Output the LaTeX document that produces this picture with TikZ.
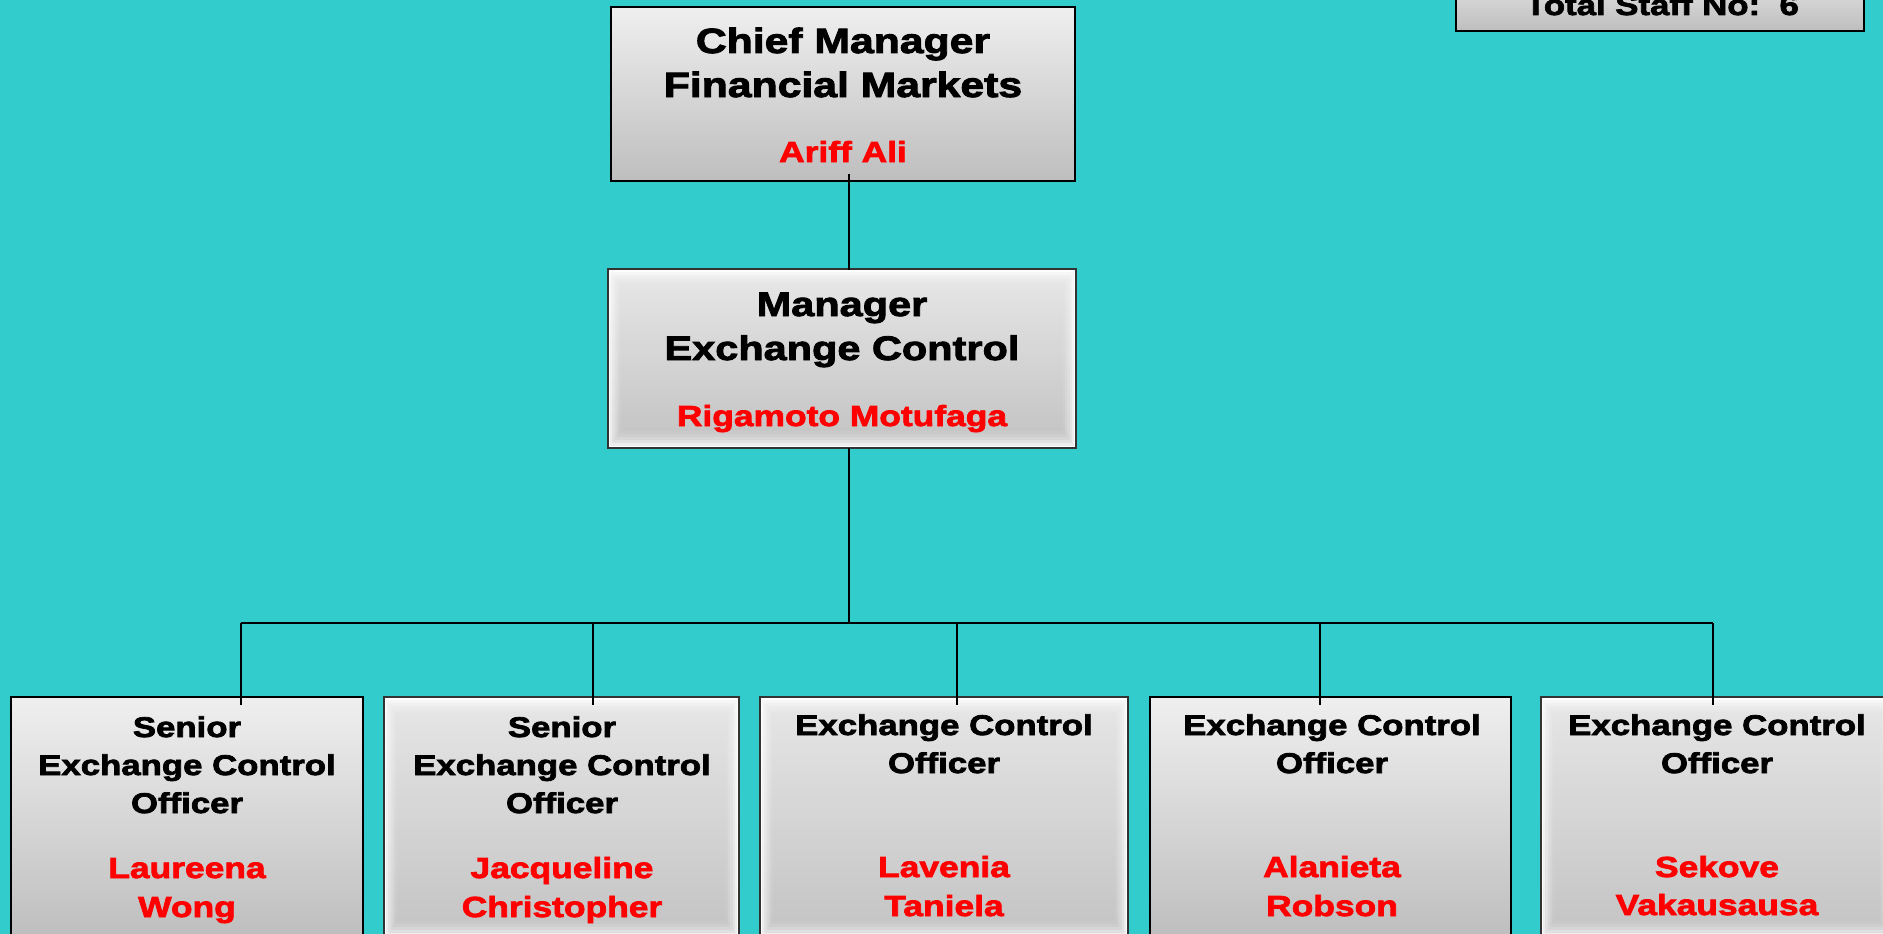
\documentclass[tikz,border=0pt]{standalone}
\usepackage{fontspec}
\newfontfamily\bk[FakeStretch=1.22,FakeBold=2.6]{Liberation Sans}
\definecolor{bg}{RGB}{51,204,204}
\definecolor{gtop}{RGB}{239,239,239}
\definecolor{gbot}{RGB}{190,190,190}
\definecolor{itop}{RGB}{228,228,228}
\definecolor{ibot}{RGB}{196,196,196}
\definecolor{nm}{RGB}{255,0,0}
\begin{document}
\begin{tikzpicture}[x=1pt,y=-1pt,
  plainbox/.style={draw=black,line width=2pt,top color=gtop,bottom color=gbot,inner sep=0pt},
  bevelbox/.style={draw=black!80,line width=1.8pt,inner sep=0pt,
    top color=white,middle color=black!8,bottom color=white,
    path picture={\foreach \k/\op in {3/0.3,6/0.3,9/0.35,12/0.4,15/0.5,18/0.6}{
      \shade[top color=itop,bottom color=ibot,opacity=\op]
      ([shift={({0.75*\k pt},{\k pt})}]path picture bounding box.south west) rectangle
      ([shift={({-0.75*\k pt},{-\k pt})}]path picture bounding box.north east);}}},
  ttop/.style={anchor=base,inner sep=0pt,font=\bk\bfseries\fontsize{35}{36}\selectfont},
  tmgr/.style={anchor=base,inner sep=0pt,font=\bk\bfseries\fontsize{34}{36}\selectfont},
  tsub/.style={anchor=base,inner sep=0pt,font=\bk\bfseries\fontsize{28.5}{30}\selectfont},
  tname/.style={anchor=base,inner sep=0pt,text=nm,font=\bk\bfseries\fontsize{29}{30}\selectfont},
  conn/.style={draw=black,line width=2.2pt}]
\useasboundingbox (0,0) rectangle (1883,934);
\clip (0,0) rectangle (1883,934);
\fill[bg] (0,0) rectangle (1883,934);

% boxes
\node[plainbox,minimum width=464pt,minimum height=174pt] (top) at (843,94) {};
\node[bevelbox,minimum width=468pt,minimum height=179pt] (mgr) at (842,358.5) {};
\node[plainbox,minimum width=408pt,minimum height=71pt] (staff) at (1660,-4.5) {};
\node[plainbox,minimum width=352pt,minimum height=241pt] (b1) at (187,817.5) {};
\node[bevelbox,minimum width=355pt,minimum height=241pt] (b2) at (561.5,817.5) {};
\node[bevelbox,minimum width=368pt,minimum height=241pt] (b3) at (944,817.5) {};
\node[plainbox,minimum width=361pt,minimum height=241pt] (b4) at (1330.5,817.5) {};
\node[bevelbox,minimum width=352pt,minimum height=241pt] (b5) at (1717,817.5) {};

% texts
\node[tsub] (staffT) at (1662,15) {Total Staff No:\ \ 6};
\node[ttop] (topA) at (843,53) {Chief Manager};
\node[ttop] (topB) at (843,97) {Financial Markets};
\node[tname] (topN) at (843,162) {Ariff Ali};
\node[tmgr] (mgrA) at (842,316) {Manager};
\node[tmgr] (mgrB) at (842,360) {Exchange Control};
\node[tname] (mgrN) at (842,426) {Rigamoto Motufaga};

\node[tsub] (b1A) at (187,737) {Senior};
\node[tsub] (b1B) at (187,775) {Exchange Control};
\node[tsub] (b1C) at (187,813) {Officer};
\node[tname] (b1N) at (187,878) {Laureena};
\node[tname] (b1M) at (187,917) {Wong};

\node[tsub] (b2A) at (562,737) {Senior};
\node[tsub] (b2B) at (562,775) {Exchange Control};
\node[tsub] (b2C) at (562,813) {Officer};
\node[tname] (b2N) at (562,878) {Jacqueline};
\node[tname] (b2M) at (562,917) {Christopher};

\node[tsub] (b3B) at (944,735) {Exchange Control};
\node[tsub] (b3C) at (944,773) {Officer};
\node[tname] (b3N) at (944,877) {Lavenia};
\node[tname] (b3M) at (944,916) {Taniela};

\node[tsub] (b4B) at (1332,735) {Exchange Control};
\node[tsub] (b4C) at (1332,773) {Officer};
\node[tname] (b4N) at (1332,877) {Alanieta};
\node[tname] (b4M) at (1332,916) {Robson};

\node[tsub] (b5B) at (1717,735) {Exchange Control};
\node[tsub] (b5C) at (1717,773) {Officer};
\node[tname] (b5N) at (1717,877) {Sekove};
\node[tname] (b5M) at (1717,915) {Vakausausa};

% connectors
\coordinate (topOut) at (849,174);
\coordinate (mgrIn) at (849,270);
\coordinate (mgrOut) at (849,448);
\coordinate (hub) at (849,623);
\coordinate (d1) at (241,623);
\coordinate (d2) at (593,623);
\coordinate (d3) at (957,623);
\coordinate (d4) at (1320,623);
\coordinate (d5) at (1713,623);
\coordinate (e1) at (241,705);
\coordinate (e2) at (593,705);
\coordinate (e3) at (957,705);
\coordinate (e4) at (1320,705);
\coordinate (e5) at (1713,705);
\draw[conn] (topOut) -- (mgrIn);
\draw[conn] (mgrOut) -- (hub);
\draw[conn] (d1) -- (d5);
\draw[conn] (d1) -- (e1);
\draw[conn] (d2) -- (e2);
\draw[conn] (d3) -- (e3);
\draw[conn] (d4) -- (e4);
\draw[conn] (d5) -- (e5);
\end{tikzpicture}
\end{document}
